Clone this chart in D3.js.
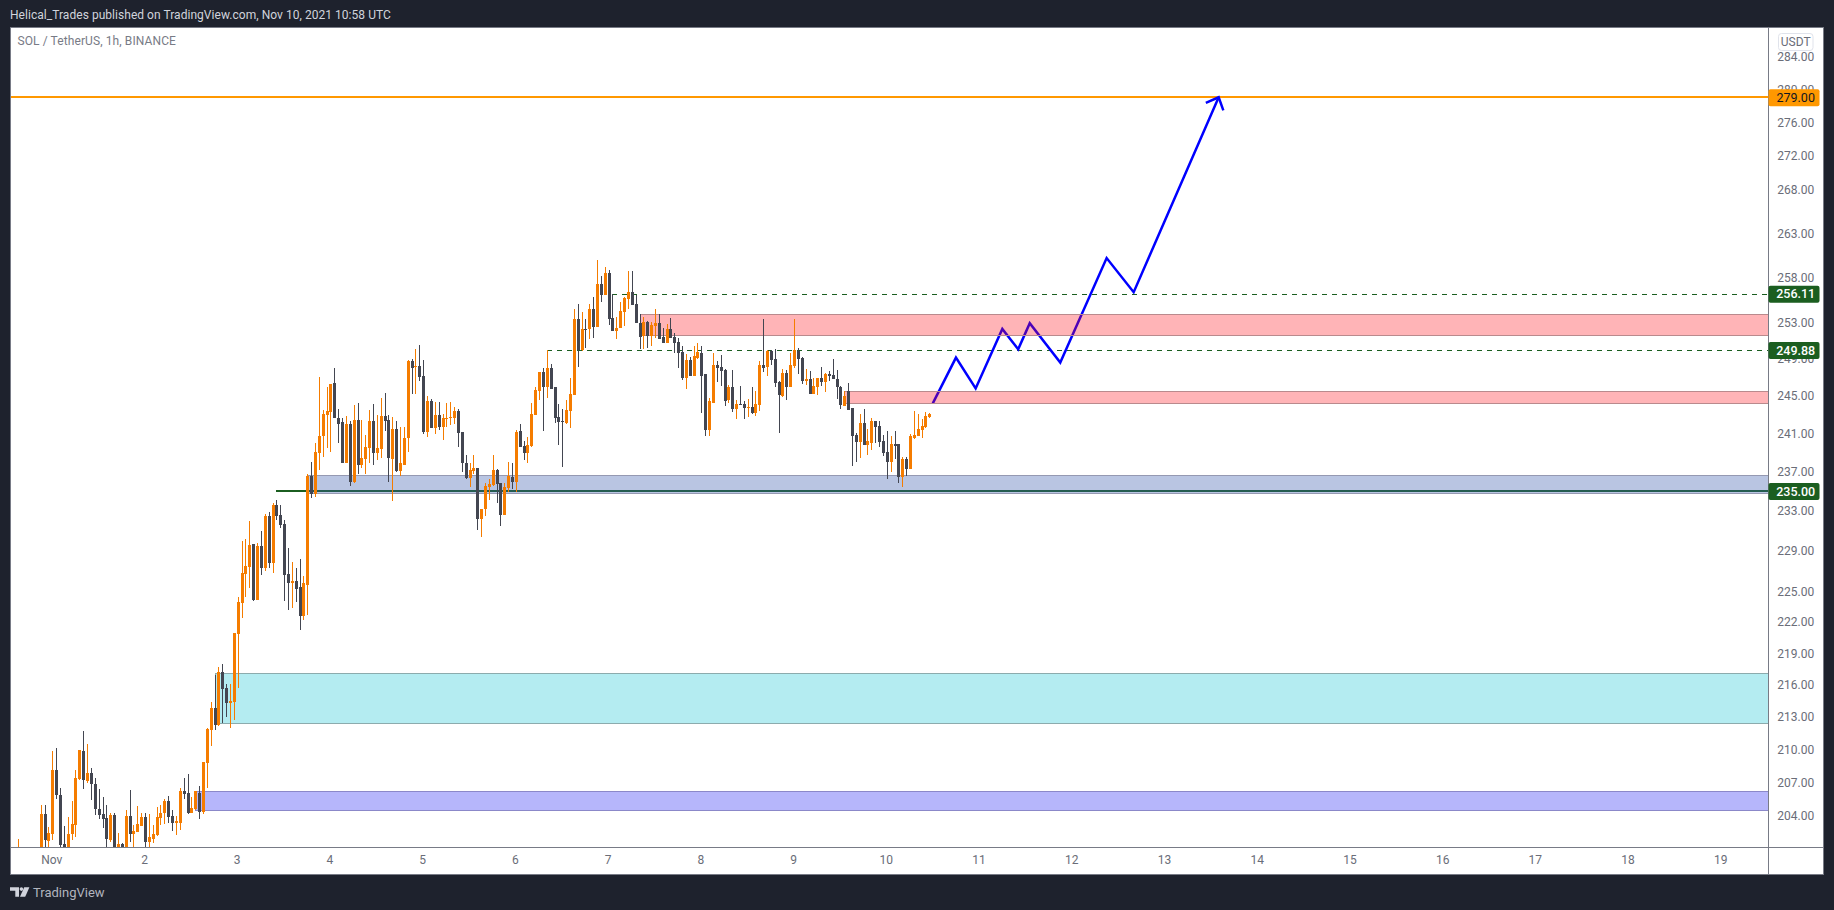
<!DOCTYPE html>
<html><head><meta charset="utf-8"><title>SOL / TetherUS</title>
<style>html,body{margin:0;padding:0;background:#1e222d;overflow:hidden}svg{display:block}</style>
<script src="https://cdnjs.cloudflare.com/ajax/libs/d3/7.8.5/d3.min.js"></script></head><body>
<script>
const firstBar=-6;
const opens=[200.6,200.9,200.4,200.6,200.3,200.1,200.7,204.2,201.8,202.4,
208.1,205.9,201.5,201.1,202.4,203.2,207.3,209.9,207.1,207.9,
206.9,204.6,204.2,203.8,201.9,204.1,201.0,201.5,201.2,204.0,
202.4,202.6,203.1,203.9,201.7,202.0,202.3,203.8,204.3,205.3,
204.0,203.4,203.4,206.2,206.1,204.3,204.6,206.1,204.4,208.8,
211.8,213.8,212.3,217.2,215.7,214.3,214.4,220.8,223.8,226.7,
227.4,229.7,224.1,229.5,227.3,232.5,227.8,233.6,232.6,231.7,
226.7,225.8,226.0,225.4,222.6,225.6,236.6,234.7,239.0,240.7,
243.0,243.3,246.4,242.7,242.2,237.9,242.0,236.0,242.4,237.7,
238.4,239.5,242.3,239.0,239.4,242.9,242.4,238.4,241.5,237.1,
237.7,240.5,248.7,248.1,248.2,247.1,241.2,244.5,241.6,243.0,
241.7,242.5,242.6,242.7,243.4,241.2,237.9,236.4,237.1,237.4,
232.2,233.2,235.5,235.7,237.2,235.9,232.6,235.4,236.5,236.0,
241.3,239.7,239.0,239.7,243.0,245.5,247.6,245.9,248.0,245.9,
242.8,242.3,242.1,243.4,245.1,253.3,250.0,252.3,252.2,254.4,
252.5,257.2,256.0,258.5,253.5,252.0,252.4,254.1,255.6,256.4,
255.0,252.9,251.5,253.0,251.5,252.6,252.9,251.4,250.7,252.3,
251.4,250.8,249.7,246.9,248.9,247.1,249.1,249.6,247.3,241.4,
244.2,248.3,248.1,247.8,244.6,246.0,243.6,244.1,244.1,243.7,
243.8,243.2,244.0,248.3,248.1,249.8,249.0,246.5,245.0,247.5,
246.0,248.2,249.8,249.1,246.6,246.8,245.2,246.0,246.9,246.5,
247.4,247.2,246.8,246.0,243.9,245.5,243.7,240.9,240.1,242.1,
239.8,240.0,242.3,241.8,240.2,239.1,238.0,239.9,239.9,236.5,
238.4,237.3,240.5,240.8,241.4,241.7,242.8];
const highs=[202.0,201.0,200.9,201.0,200.8,200.9,205.0,205.0,203.0,209.9,
210.1,206.5,203.1,203.9,205.3,208.1,210.0,211.7,210.5,208.3,
207.4,206.4,205.7,205.0,204.3,204.3,202.5,201.6,204.5,206.3,
203.2,204.9,204.3,204.3,204.2,203.2,204.8,205.0,205.5,205.8,
204.5,204.0,206.5,207.4,207.8,205.7,206.2,206.7,208.9,212.0,
214.4,216.9,217.7,218.0,216.1,216.1,220.9,224.4,230.0,230.2,
232.0,229.7,229.8,231.0,232.7,232.9,233.8,234.1,233.6,232.1,
229.3,227.9,227.3,228.2,226.5,236.8,238.0,240.0,247.0,243.5,
245.9,246.3,248.0,243.6,242.7,242.9,242.3,244.0,244.2,242.4,
240.9,243.5,244.1,243.0,244.8,245.3,243.0,242.8,242.3,241.7,
241.7,248.9,249.0,250.1,250.5,248.9,245.0,244.7,244.3,244.3,
243.1,244.2,244.3,243.8,243.6,241.2,238.8,237.9,238.8,237.4,
233.2,235.9,236.3,238.8,237.3,235.9,235.9,238.0,237.9,241.4,
242.0,240.2,240.6,244.2,246.0,247.6,248.0,250.0,248.4,245.9,
244.1,243.6,244.6,246.9,254.5,255.0,254.1,253.3,255.0,255.8,
260.0,258.1,259.2,258.8,256.1,253.6,255.2,255.8,258.7,258.7,
256.0,253.9,253.6,253.1,253.0,254.5,253.9,252.4,252.8,253.5,
251.8,251.3,250.4,249.5,249.2,250.4,250.7,250.4,247.3,244.8,
249.6,248.7,249.4,247.9,246.2,247.8,244.6,246.1,244.5,244.7,
246.0,245.5,248.7,253.4,249.9,249.9,250.1,246.6,247.9,247.8,
249.6,253.3,250.2,249.2,247.9,247.7,246.9,246.9,248.1,247.5,
247.7,249.0,247.8,246.1,245.5,246.4,243.7,241.1,243.1,243.6,
241.5,242.7,242.3,242.3,240.9,241.3,240.8,241.3,239.9,238.6,
238.6,241.0,243.4,243.1,242.5,243.3,243.2];
const lows=[200.0,200.2,200.0,200.1,199.9,199.8,200.3,201.2,201.2,201.9,
205.5,201.3,200.8,200.9,201.9,202.1,207.2,206.4,207.0,205.4,
204.1,203.7,202.9,201.2,201.7,200.8,200.8,200.7,200.9,201.7,
201.2,202.6,203.1,201.2,201.2,201.6,202.2,203.2,203.3,203.4,
202.7,202.3,202.8,205.5,204.2,204.3,204.5,203.7,204.2,206.5,
210.3,211.8,212.2,212.4,213.0,212.0,212.7,215.7,222.4,224.4,
225.3,224.0,224.1,226.6,227.0,227.3,226.8,232.1,231.3,224.0,
223.2,223.4,223.9,221.2,222.2,222.7,234.3,234.4,237.2,238.6,
239.5,239.1,242.6,240.0,237.9,237.9,235.6,235.9,236.8,237.4,
236.8,237.9,237.7,238.2,238.5,241.3,236.0,234.0,237.0,236.6,
237.7,239.1,245.2,245.2,246.6,241.0,240.6,241.6,241.0,241.4,
240.3,241.7,241.9,242.0,239.6,237.0,236.3,235.5,236.8,231.1,
230.4,232.5,234.1,235.6,233.8,231.5,232.6,234.9,235.3,234.9,
239.6,238.2,237.9,239.6,243.0,244.6,241.3,244.8,245.7,242.1,
239.8,237.5,242.0,241.6,245.1,248.1,249.8,250.2,251.2,251.3,
252.5,255.2,256.0,252.7,252.0,251.2,252.4,252.6,254.4,254.9,
252.9,250.1,250.1,250.2,250.4,251.3,251.2,250.7,250.7,251.3,
249.6,248.0,246.7,245.7,247.1,247.1,249.0,243.2,240.8,240.8,
244.2,246.5,246.1,243.9,244.2,243.3,242.5,244.0,242.5,242.8,
243.1,242.9,243.4,247.6,247.1,248.3,245.9,241.1,244.9,244.6,
245.9,248.0,247.3,246.3,246.2,245.2,245.2,245.1,246.1,245.4,
246.6,246.8,244.7,243.6,243.9,243.5,237.6,238.0,238.5,239.8,
238.8,239.3,240.0,239.6,238.7,236.3,237.0,238.4,235.9,235.5,
236.6,237.3,240.4,240.8,240.5,241.6,242.7];
const closes=[201.0,200.4,200.6,200.3,200.1,200.7,204.2,201.9,202.5,208.1,
205.9,201.4,201.1,202.4,203.3,207.4,210.0,207.2,207.9,206.9,
204.6,204.1,203.7,202.0,204.1,201.2,201.5,201.2,204.0,202.4,
202.7,203.3,203.9,201.7,202.1,202.4,203.9,204.3,205.3,203.9,
203.4,203.6,206.2,206.0,204.3,204.7,206.2,204.4,208.9,211.9,
213.8,212.3,217.2,215.6,214.3,214.5,220.9,223.9,226.8,227.5,
229.6,224.1,229.5,227.3,232.5,227.8,233.6,232.5,231.6,226.6,
225.8,226.0,225.2,222.6,225.8,236.6,234.7,239.1,240.8,243.1,
243.4,246.3,242.6,242.0,237.9,242.0,236.0,242.4,237.7,238.5,
239.6,242.3,239.0,239.5,242.9,242.3,238.5,241.5,237.1,237.9,
240.5,248.7,248.0,248.2,247.0,241.2,244.5,241.6,243.0,241.7,
242.6,242.7,242.8,243.4,241.1,237.9,236.4,237.2,237.4,232.2,
233.2,235.6,235.8,237.2,235.8,232.6,235.5,236.6,236.0,241.2,
239.6,239.0,239.8,243.1,245.6,247.6,245.9,248.0,245.7,242.7,
242.2,242.2,243.5,245.2,253.3,250.0,252.3,252.2,254.4,252.5,
257.2,256.0,258.5,253.4,252.0,252.4,254.2,255.7,256.4,254.9,
252.9,251.4,253.0,251.5,252.7,252.9,251.2,250.7,252.3,251.3,
250.7,249.6,246.9,248.9,247.1,249.3,249.7,247.1,241.4,244.4,
248.3,248.0,247.7,244.5,246.0,243.6,244.1,244.0,243.7,243.8,
243.2,244.1,248.3,248.0,249.8,248.9,246.4,245.1,247.5,246.0,
248.3,249.9,249.0,246.6,246.8,245.2,246.1,246.9,246.5,247.4,
247.1,246.8,245.9,244.0,245.0,243.5,240.8,240.1,242.1,239.8,
240.2,242.3,241.7,240.1,239.0,238.0,239.9,239.7,236.5,238.4,
237.3,240.7,240.9,241.5,241.8,242.9,243.1];

const priceTicks=[284,280,276,272,268,263,258,253,249,245,241,237,233,229,225,222,219,216,213,210,207,204];
const dayLabels=["Nov","2","3","4","5","6","7","8","9","10","11","12","13","14","15","16","17","18","19"];
const dayBars=dayLabels.map((_,i)=>3+24*i);

const zoneStart=[69,45,40,155,208];
const zoneTop=[236.67,217.16,206.2,253.88,245.5];
const zoneBottom=[234.85,212.42,204.5,251.57,244.2];
const zoneFill=["rgba(55,89,172,.35)","rgba(8,192,208,.3)","rgba(12,12,242,.3)","rgba(255,8,18,.3)","rgba(255,8,18,.3)"];
const zoneStroke=["#9599b2","#8cabad","#8b88c9","#b98a8d","#b98a8d"];

const levelPrice=[279,256.11,249.88,235];
const levelStart=[null,148,131,61];
const levelColor=["#ff9800","#1b5e20","#1b5e20","#1b5e20"];
const levelLabel=["279.00","256.11","249.88","235.00"];

const pathBars=[230.9,236.9,242,248.9,253,256,263.9,275.9,282.9,304.9];
const pathPrices=[244.2,249.12,245.8,252.26,250.03,252.89,248.58,260.17,256.33,279.06];

const W=1834,H=910,L=10,T=27,R=1768.5,B=847.3,FR=1823.5,FB=874.3;
const FONT="Roboto, sans-serif";
const svg=d3.select("body").append("svg").attr("width",W).attr("height",H);
svg.append("rect").attr("width",W).attr("height",H).attr("fill","#1e222d");
svg.append("rect").attr("x",L).attr("y",T).attr("width",FR-L).attr("height",FB-T).attr("fill","#fff");
svg.append("defs").append("clipPath").attr("id","plot").append("rect").attr("x",L).attr("y",T).attr("width",R-L).attr("height",B-T);

const x=d3.scaleLinear().domain([0,230]).range([40.7,929.3]);
const y=d3.scaleLog().domain([204,284]).range([816,57]);
const plot=svg.append("g").attr("clip-path","url(#plot)");

// horizontal levels, snapped to the pixel grid
levelPrice.forEach((p,i)=>{
  const solid=i===0||i===3;
  const yy=solid?Math.floor(y(p)):Math.floor(y(p))+.5;
  plot.append("line").attr("x1",levelStart[i]===null?L:x(levelStart[i])).attr("x2",R)
    .attr("y1",yy).attr("y2",yy).attr("stroke",levelColor[i]).attr("stroke-width",solid?2:1)
    .attr("shape-rendering","crispEdges")
    .attr("stroke-dasharray",solid?null:"5 5");
});

// forecast path
const px=pathBars.map(b=>x(b)),py=pathPrices.map(p=>y(p));
const lineGen=d3.line();
plot.append("path").attr("d",lineGen(px.map((v,i)=>[v,py[i]]))).attr("fill","none")
  .attr("stroke","#0000ff").attr("stroke-width",2.5).attr("stroke-linejoin","miter");
const n=px.length-1,ang=Math.atan2(py[n-1]-py[n],px[n-1]-px[n]),arm=14,spread=43*Math.PI/180;
plot.append("path").attr("d",lineGen([
  [px[n]+arm*Math.cos(ang+spread),py[n]+arm*Math.sin(ang+spread)],[px[n],py[n]],
  [px[n]+arm*Math.cos(ang-spread),py[n]+arm*Math.sin(ang-spread)]]))
  .attr("fill","none").attr("stroke","#0000ff").attr("stroke-width",2.5);

// zones
zoneStart.forEach((s,i)=>{
  plot.append("rect").attr("x",Math.round(x(s))+.5).attr("width",R-Math.round(x(s))+5)
    .attr("y",Math.round(y(zoneTop[i]))+.5).attr("height",Math.round(y(zoneBottom[i]))-Math.round(y(zoneTop[i])))
    .attr("fill",zoneFill[i]).attr("stroke",zoneStroke[i]).attr("stroke-width",1);
});

// candles
const UP="#f57c00",DOWN="#434651";
const bars=opens.map((o,i)=>({b:i+firstBar,o,h:highs[i],l:lows[i],c:closes[i]}));
const cg=plot.append("g").attr("shape-rendering","crispEdges");
cg.selectAll("rect.w").data(bars).join("rect").attr("class","w")
  .attr("x",d=>Math.round(x(d.b))).attr("width",1)
  .attr("y",d=>y(d.h)).attr("height",d=>Math.max(1,y(d.l)-y(d.h)))
  .attr("fill",d=>d.c>=d.o?UP:DOWN);
cg.selectAll("rect.b").data(bars).join("rect").attr("class","b")
  .attr("x",d=>Math.round(x(d.b))-1).attr("width",3)
  .attr("y",d=>y(Math.max(d.o,d.c))).attr("height",d=>Math.max(1,Math.abs(y(d.o)-y(d.c))))
  .attr("fill",d=>d.c>=d.o?UP:DOWN);

// axes
const AX="#787b86";
const yAxis=d3.axisRight(y).tickValues(priceTicks).tickFormat(d3.format(".2f")).tickSize(0).tickPadding(0);
const gy=svg.append("g").attr("transform",`translate(1795.7,0)`).call(yAxis);
gy.select(".domain").remove();
gy.selectAll("text").attr("text-anchor","middle").attr("x",0).attr("fill","#6a6d78").attr("font-family",FONT).attr("font-size",12);
const xAxis=d3.axisBottom(x).tickValues(dayBars).tickFormat((d,i)=>dayLabels[i]).tickSize(0).tickPadding(0);
const gx=svg.append("g").attr("transform",`translate(-1,${B})`).call(xAxis);
gx.select(".domain").remove();
gx.selectAll("text").attr("y",8).attr("fill","#6a6d78").attr("font-family",FONT).attr("font-size",12);

// frame and axis lines
const frame=svg.append("g").attr("shape-rendering","crispEdges").attr("stroke",AX).attr("fill","none");
frame.append("rect").attr("x",L).attr("y",T).attr("width",FR-L).attr("height",FB-T);
frame.append("line").attr("x1",R).attr("x2",R).attr("y1",T).attr("y2",FB);
frame.append("line").attr("x1",L).attr("x2",FR).attr("y1",B).attr("y2",B);

// price tags
levelPrice.forEach((p,i)=>{
  const g=svg.append("g").attr("transform",`translate(1768.5,${y(p)})`);
  g.append("rect").attr("x",0).attr("y",-8.5).attr("width",51).attr("height",17).attr("rx",2).attr("fill",levelColor[i]);
  g.append("text").attr("x",27.2).attr("y",4.2).attr("text-anchor","middle").attr("font-family",FONT)
    .attr("font-size",12.5).attr("font-weight",i===0?400:500).attr("fill",i===0?"#131722":"#fff").text(levelLabel[i]);
});

// USDT box
svg.append("rect").attr("x",1778.5).attr("y",33.5).attr("width",34.5).attr("height",17).attr("rx",3)
  .attr("fill","#fff").attr("stroke","#e0e3eb");
svg.append("text").attr("x",1795.7).attr("y",46).attr("text-anchor","middle").attr("font-family",FONT)
  .attr("font-size",12).attr("fill","#6a6d78").text("USDT");

// texts
svg.append("text").attr("x",10).attr("y",19).attr("font-family",FONT).attr("font-size",12).attr("letter-spacing",".04").attr("fill","#d1d4dc")
  .text("Helical_Trades published on TradingView.com, Nov 10, 2021 10:58 UTC");
svg.append("text").attr("x",17.5).attr("y",45).attr("font-family",FONT).attr("font-size",12).attr("letter-spacing",".1").attr("fill","#787b86")
  .text("SOL / TetherUS, 1h, BINANCE");

// footer logo
const logo=svg.append("g").attr("fill","#d1d4dc");
logo.append("path").attr("d","M10 887.3H19V896.7H15.3V890.8H10Z");
logo.append("circle").attr("cx",21.4).attr("cy",889.1).attr("r",1.8);
logo.append("path").attr("d","M24.2 887.3H29.4L25.2 896.7H20Z");
svg.append("text").attr("x",33).attr("y",896.8).attr("font-family",FONT).attr("font-size",13).attr("fill","#b2b5be").text("TradingView");
</script></body></html>
